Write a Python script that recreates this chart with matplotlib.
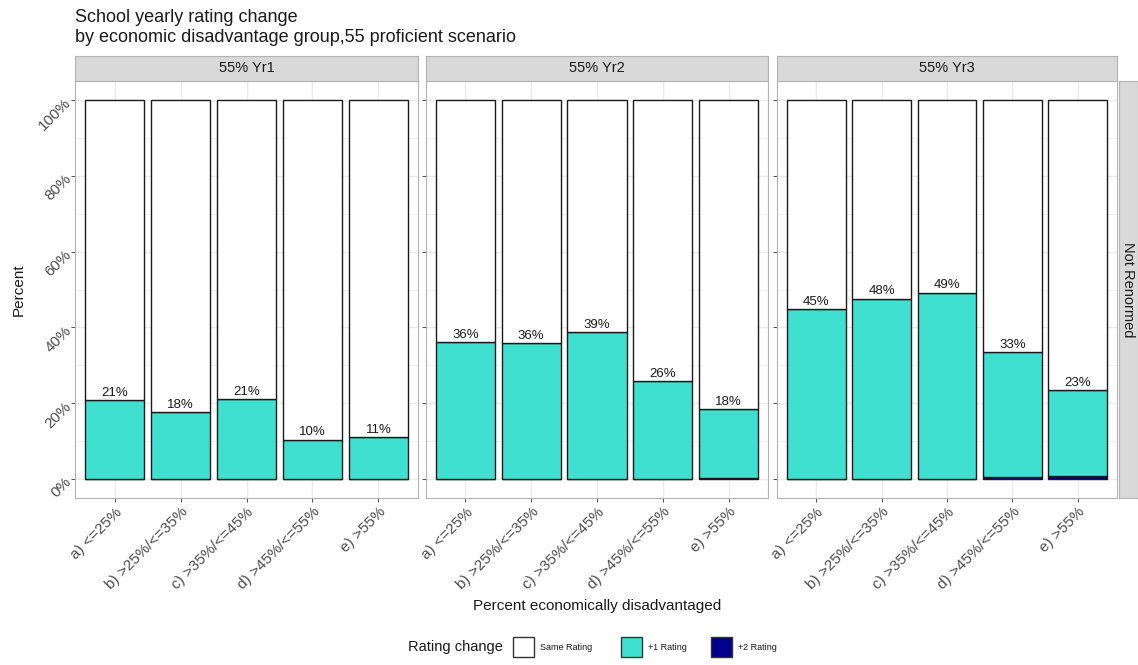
import numpy as np
import matplotlib.pyplot as plt
from matplotlib.patches import Rectangle

plt.rcParams['font.family'] = ['Liberation Sans', 'DejaVu Sans']

# Data: share of schools per rating change, by economic disadvantage group
groups = ["a) <=25%", "b) >25%/<=35%", "c) >35%/<=45%", "d) >45%/<=55%", "e) >55%"]
panels = ["55% Yr1", "55% Yr2", "55% Yr3"]
plus1 = [
    [20.8, 17.7, 21.1, 10.4, 11.0],
    [36.1, 35.9, 38.8, 25.8, 18.2],
    [44.8, 47.6, 49.2, 33.0, 22.6],
]
plus2 = [
    [0.0, 0.0, 0.0, 0.0, 0.0],
    [0.0, 0.0, 0.0, 0.0, 0.3],
    [0.0, 0.0, 0.0, 0.6, 0.9],
]
yticks = [0, 20, 40, 60, 80, 100]

col_same = "white"
col_p1 = "#40E0D0"
col_p2 = "#00008B"
grid_col = "#ebebeb"
txt_col = "#4d4d4d"

W, H = 1138, 665
fig = plt.figure(figsize=(W / 100, H / 100), dpi=100)


def box(x0, y0, x1, y1):
    # pixel box (top-left origin) -> figure fraction rect
    return [x0 / W, 1 - y1 / H, (x1 - x0) / W, (y1 - y0) / H]


panel_x = [(75, 418), (426, 768), (777, 1117)]
top, bottom = 81, 498
x = np.arange(1, len(groups) + 1)

for i, (px0, px1) in enumerate(panel_x):
    ax = fig.add_axes(box(px0, top, px1, bottom))
    p1 = np.array(plus1[i])
    p2 = np.array(plus2[i])
    same = 100 - p1 - p2
    ax.bar(x, p2, width=0.9, color=col_p2, edgecolor="#1a1a1a", linewidth=1, zorder=3)
    ax.bar(x, p1, bottom=p2, width=0.9, color=col_p1, edgecolor="#1a1a1a", linewidth=1, zorder=3)
    ax.bar(x, same, bottom=p1 + p2, width=0.9, color=col_same, edgecolor="#1a1a1a", linewidth=1, zorder=3)
    for xi, a, b in zip(x, p1, p2):
        ax.text(xi, a + b + 0.3, f"{a:.0f}%", ha="center", va="bottom",
                fontsize=9.5, color="#1a1a1a", zorder=4)

    ax.set_xlim(0.4, 5.6)
    ax.set_ylim(-5, 105)
    ax.set_xticks(x)
    ax.set_xticklabels(groups, rotation=45, ha="right", rotation_mode="anchor",
                       fontsize=11, color=txt_col)
    ax.set_yticks(yticks)
    ax.set_yticks([10, 30, 50, 70, 90], minor=True)
    if i == 0:
        ax.set_yticklabels([f"{t}%" for t in yticks], rotation=45, ha="right",
                           rotation_mode="anchor", fontsize=11, color=txt_col)
        ax.set_ylabel("Percent", fontsize=11, color="#1a1a1a", labelpad=8)
    else:
        ax.set_yticklabels([])
    ax.tick_params(axis="both", which="major", length=3, color="#333333", width=0.6, pad=2)
    ax.tick_params(axis="y", which="minor", length=0)
    ax.grid(True, which="major", color=grid_col, linewidth=1, zorder=0)
    ax.grid(True, which="minor", axis="y", color=grid_col, linewidth=0.5, zorder=0)
    for s in ax.spines.values():
        s.set_color("#b3b3b3")
        s.set_linewidth(0.8)

    # facet strip on top
    sax = fig.add_axes(box(px0, 56, px1, 81))
    sax.set_facecolor("#d9d9d9")
    sax.set_xticks([])
    sax.set_yticks([])
    for s in sax.spines.values():
        s.set_color("#b3b3b3")
        s.set_linewidth(0.8)
    sax.text(0.5, 0.5, panels[i], ha="center", va="center", fontsize=10.5,
             color="#1a1a1a", transform=sax.transAxes)

# row strip on the right
rax = fig.add_axes(box(1119, top, 1138, bottom))
rax.set_facecolor("#d9d9d9")
rax.set_xticks([])
rax.set_yticks([])
for s in rax.spines.values():
    s.set_color("#b3b3b3")
    s.set_linewidth(0.8)
rax.text(0.5, 0.5, "Not Renormed", ha="center", va="center", rotation=-90,
         fontsize=10.5, color="#1a1a1a", transform=rax.transAxes)

fig.text(75 / W, 1 - 17 / H, "School yearly rating change", fontsize=13,
         color="#1a1a1a", va="center")
fig.text(75 / W, 1 - 38 / H, "by economic disadvantage group,55 proficient scenario",
         fontsize=13, color="#1a1a1a", va="center")
fig.text(597 / W, 1 - 606 / H, "Percent economically disadvantaged", fontsize=11,
         color="#1a1a1a", ha="center", va="center")

# legend along the bottom
ly = 647
fig.text(455 / W, 1 - ly / H, "Rating change", fontsize=10.5, color="#1a1a1a",
         ha="center", va="center")
legend_items = [("Same Rating", col_same, 513), ("+1 Rating", col_p1, 621), ("+2 Rating", col_p2, 711)]
for label, c, lx in legend_items:
    fig.add_artist(Rectangle((lx / W, 1 - (ly + 10) / H), 21 / W, 20 / H,
                             transform=fig.transFigure, facecolor=c,
                             edgecolor="#333333", linewidth=1))
    fig.text((lx + 27) / W, 1 - ly / H, label, fontsize=6.5, color="#1a1a1a",
             va="center")

fig.savefig("out.png", dpi=100)
